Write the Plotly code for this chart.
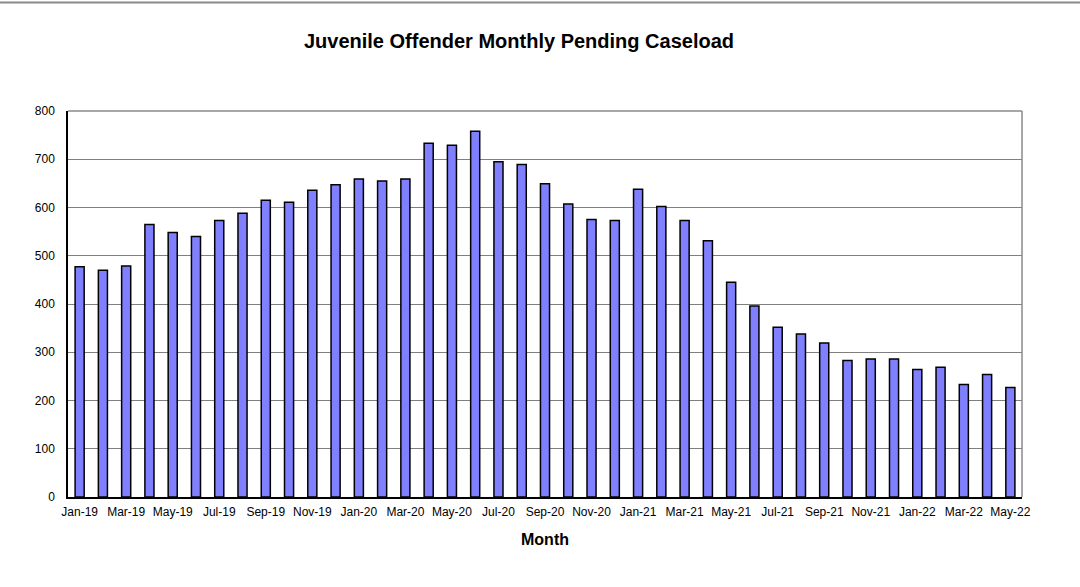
import plotly.graph_objects as go

months = ["Jan-19", "Feb-19", "Mar-19", "Apr-19", "May-19", "Jun-19", "Jul-19", "Aug-19",
          "Sep-19", "Oct-19", "Nov-19", "Dec-19", "Jan-20", "Feb-20", "Mar-20", "Apr-20",
          "May-20", "Jun-20", "Jul-20", "Aug-20", "Sep-20", "Oct-20", "Nov-20", "Dec-20",
          "Jan-21", "Feb-21", "Mar-21", "Apr-21", "May-21", "Jun-21", "Jul-21", "Aug-21",
          "Sep-21", "Oct-21", "Nov-21", "Dec-21", "Jan-22", "Feb-22", "Mar-22", "Apr-22",
          "May-22"]
caseload = [477, 470, 479, 565, 548, 540, 573, 588,
            615, 611, 636, 647, 659, 655, 659, 733,
            729, 758, 695, 689, 649, 607, 575, 573,
            638, 602, 573, 531, 445, 396, 352, 338,
            319, 283, 286, 286, 264, 269, 233, 254,
            227]
tick_labels = months[::2]
y_ticks = [0, 100, 200, 300, 400, 500, 600, 700, 800]

W, H = 1080, 587
ml, mr, mt, mb = 68, 58, 111, 90
pw, ph = W - ml - mr, H - mt - mb

fig = go.Figure(go.Bar(
    x=months, y=caseload,
    width=0.39,
    marker=dict(color="#8080FF", line=dict(color="black", width=1.5)),
))

font = "Liberation Sans, Arial, sans-serif"
fig.update_layout(
    width=W, height=H,
    margin=dict(l=ml, r=mr, t=mt, b=mb, autoexpand=False),
    paper_bgcolor="white", plot_bgcolor="white",
    font=dict(family=font, color="black", size=12),
    showlegend=False,
    title=dict(text="<b>Juvenile Offender Monthly Pending Caseload</b>",
               x=519 / W, xanchor="center", xref="container",
               y=1 - 41 / H, yanchor="middle", yref="container",
               font=dict(size=20, family=font, color="black")),
)
fig.update_xaxes(
    type="category", range=[-0.5, len(months) - 0.5],
    tickmode="array", tickvals=tick_labels, ticktext=tick_labels,
    tickangle=0, ticks="", showgrid=False,
    showline=True, linecolor="black", linewidth=1.5,
    tickfont=dict(size=12), ticklabelstandoff=3,
    title=dict(text="<b>Month</b>", font=dict(size=16), standoff=16),
)
fig.update_yaxes(
    range=[0, 800], tickmode="array", tickvals=y_ticks,
    showgrid=True, gridcolor="#7f7f7f", gridwidth=1,
    zeroline=False, showline=True, linecolor="black", linewidth=1.5,
    ticks="", tickfont=dict(size=12), ticklabelstandoff=9,
)
# gray frame on top and right of plot area
fig.add_shape(type="line", xref="paper", yref="paper", x0=0, x1=1, y0=1, y1=1,
              line=dict(color="#8a8a8a", width=1.5))
fig.add_shape(type="line", xref="paper", yref="paper", x0=1, x1=1, y0=0, y1=1,
              line=dict(color="#8a8a8a", width=1.5))
# chart border line at the very top
fig.add_shape(type="line", xref="paper", yref="paper",
              x0=-ml / pw, x1=(W - ml) / pw,
              y0=(ph + mt - 2.5) / ph, y1=(ph + mt - 2.5) / ph,
              line=dict(color="#8a8a8a", width=2))

fig.write_html("out.html",
               config={"displayModeBar": False},
               post_script="document.body.style.margin='0';document.body.style.overflow='hidden';")
